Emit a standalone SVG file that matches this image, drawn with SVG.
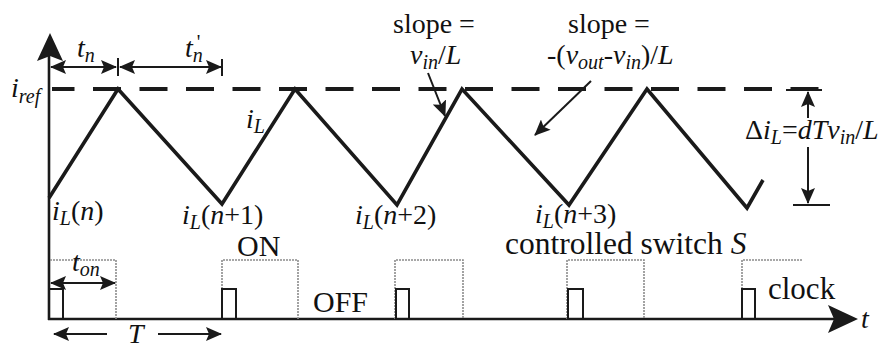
<svg xmlns="http://www.w3.org/2000/svg" width="882" height="350" viewBox="0 0 882 350">
<style>
text{font-family:"Liberation Serif","DejaVu Serif",serif;font-size:28px;fill:#111}
.it{font-style:italic}
.big{font-size:30px}
.sub{font-size:20px}
.ln{stroke:#1a1a1a;fill:none}
.wave{stroke:#1a1a1a;stroke-width:3.6;fill:none;stroke-linejoin:miter}
.sw{stroke:#8c8c8c;stroke-width:1.6;fill:none;stroke-dasharray:2 1}
.clk{stroke:#1a1a1a;stroke-width:2;fill:none}
</style>
<defs>
<marker id="ah" markerUnits="userSpaceOnUse" markerWidth="16" markerHeight="14" refX="15" refY="7" orient="auto-start-reverse" viewBox="0 0 16 14">
<path d="M0,0 L16,7 L0,14 L3,7 z" fill="#1a1a1a"/>
</marker>
</defs>
<g id="axes">
<line class="ln" x1="49" y1="320" x2="49" y2="55" stroke-width="2.6"/>
<path d="M50,33 L37,61 L50,56 L63,61 z" fill="#1a1a1a"/>
<line class="ln" x1="48" y1="319" x2="835" y2="319" stroke-width="2.6"/>
<path d="M858,319 L828,305 L834,319 L828,333 z" fill="#1a1a1a"/>
<text class="it" x="861" y="328">t</text>
</g>
<g id="iref">
<line class="ln" x1="52" y1="89" x2="822" y2="89" stroke-width="4" stroke-dasharray="28 18.5" stroke-dashoffset="5.5"/>
<text class="it" x="11" y="97">i<tspan class="sub" dy="6">ref</tspan></text>
</g>
<g id="waveform">
<polyline class="wave" points="49,198 118,89 222,204 295,89 397,205 462,89 569,205 647,89 747,208 763,180"/>
<text class="it" x="246" y="128">i<tspan class="sub" dy="5">L</tspan></text>
<text x="52" y="220"><tspan class="it">i</tspan><tspan class="it sub" dy="5">L</tspan><tspan dy="-5">(</tspan><tspan class="it">n</tspan>)</text>
<text x="182" y="224"><tspan class="it">i</tspan><tspan class="it sub" dy="5">L</tspan><tspan dy="-5">(</tspan><tspan class="it">n</tspan>+1)</text>
<text x="355" y="224"><tspan class="it">i</tspan><tspan class="it sub" dy="5">L</tspan><tspan dy="-5">(</tspan><tspan class="it">n</tspan>+2)</text>
<text x="535" y="223"><tspan class="it">i</tspan><tspan class="it sub" dy="5">L</tspan><tspan dy="-5">(</tspan><tspan class="it">n</tspan>+3)</text>
</g>
<g id="tn">
<line class="ln" x1="51" y1="67" x2="116" y2="67" stroke-width="2" marker-start="url(#ah)" marker-end="url(#ah)"/>
<line class="ln" x1="118" y1="58" x2="118" y2="76" stroke-width="2"/>
<line class="ln" x1="120" y1="67" x2="221" y2="67" stroke-width="2" marker-start="url(#ah)" marker-end="url(#ah)"/>
<line class="ln" x1="222" y1="59" x2="222" y2="76" stroke-width="2"/>
<text class="it" x="77" y="57">t<tspan class="sub" dy="5">n</tspan></text>
<text class="it" x="185" y="57">t<tspan class="sub" dy="5">n</tspan><tspan class="sub" font-style="normal" dx="-6" dy="-13">'</tspan></text>
</g>
<g id="slope1">
<text x="393" y="33">slope =</text>
<text x="410" y="64"><tspan class="it">v</tspan><tspan class="it sub" dy="5">in</tspan><tspan dy="-5">/</tspan><tspan class="it">L</tspan></text>
<line class="ln" x1="428" y1="73" x2="445" y2="116" stroke-width="2" marker-end="url(#ah)"/>
</g>
<g id="slope2">
<text x="568" y="33">slope =</text>
<text x="547" y="64">-(<tspan class="it">v</tspan><tspan class="it sub" dy="5">out</tspan><tspan dy="-5">-</tspan><tspan class="it">v</tspan><tspan class="it sub" dy="5">in</tspan><tspan dy="-5">)/</tspan><tspan class="it">L</tspan></text>
<line class="ln" x1="591" y1="81" x2="535" y2="135" stroke-width="2" marker-end="url(#ah)"/>
</g>
<g id="delta">
<line class="ln" x1="786" y1="90" x2="822" y2="90" stroke-width="2"/>
<line class="ln" x1="793" y1="205" x2="830" y2="205" stroke-width="2"/>
<line class="ln" x1="808" y1="118" x2="808" y2="92" stroke-width="2" marker-end="url(#ah)"/>
<line class="ln" x1="808" y1="147" x2="808" y2="203" stroke-width="2" marker-end="url(#ah)"/>
<text x="745" y="139">Δ<tspan class="it">i</tspan><tspan class="it sub" dy="5">L</tspan><tspan dy="-5">=</tspan><tspan class="it">dTv</tspan><tspan class="it sub" dy="5">in</tspan><tspan dy="-5">/</tspan><tspan class="it">L</tspan></text>
</g>
<g id="switch">
<path class="sw" d="M50,260 H116 V319 M222,319 V260 H298 V319 M395,319 V260 H463 V319 M567,319 V260 H644 V319 M742,319 V260 H803"/>
<text class="big" x="237" y="256">ON</text>
<text class="big" x="313" y="312">OFF</text>
<text class="big" x="505" y="254" style="font-size:31.5px">controlled switch <tspan class="it">S</tspan></text>
</g>
<g id="clock">
<path class="clk" d="M49,289 H63 V319 M222,319 V289 H236 V319 M396,319 V289 H409 V319 M568,319 V289 H583 V319 M742,319 V289 H755 V319"/>
<text class="big" x="768" y="299" style="font-size:31px">clock</text>
</g>
<g id="ton">
<line class="ln" x1="51" y1="283" x2="115" y2="283" stroke-width="2" marker-start="url(#ah)" marker-end="url(#ah)"/>
<text class="it" x="72" y="271">t<tspan class="sub" dy="5">on</tspan></text>
</g>
<g id="period">
<line class="ln" x1="54" y1="334" x2="107" y2="334" stroke-width="2" marker-start="url(#ah)"/>
<line class="ln" x1="158" y1="334" x2="221" y2="334" stroke-width="2" marker-end="url(#ah)"/>
<text class="it" x="128" y="343">T</text>
</g>
</svg>
